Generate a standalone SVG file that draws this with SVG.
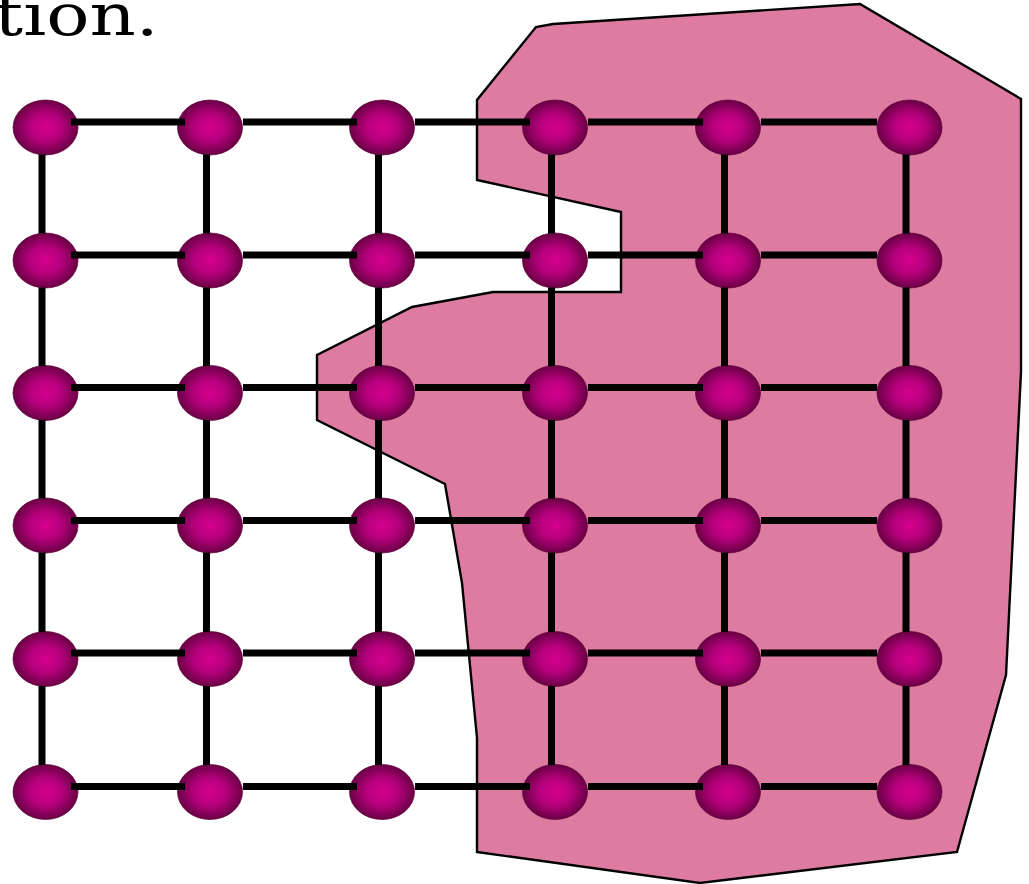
<svg xmlns="http://www.w3.org/2000/svg" width="1029" height="884" viewBox="0 0 1029 884">
<style>
.region{fill:#dd7ca0;stroke:#000;stroke-width:2.4;stroke-linejoin:miter}
.node{fill:url(#ng);stroke:#5e0039;stroke-width:0.7}
.edge{stroke:#000;stroke-width:7;stroke-linecap:butt;fill:none}
.lbl{font-family:"DejaVu Serif","Liberation Serif",serif;font-size:58px;fill:#000}
</style>
<defs>
<radialGradient id="ng" cx="50%" cy="50%" r="50%">
<stop offset="0" stop-color="#d6008f"/>
<stop offset="0.5" stop-color="#b4007b"/>
<stop offset="1" stop-color="#6a0044"/>
</radialGradient>
</defs>
<rect width="1029" height="884" fill="#fff"/>
<text class="lbl" transform="scale(1.24,1)" x="128" y="35" text-anchor="end">tion.</text>
<g id="region">
<polygon class="region" points="477,852 700,883 957,852 1006,675 1021,372 1021,99 860,4 553,24 536,27 477,100 477,180 621,212 621,292 493,292 412,307 317,355 317,420 445,484 462,583 477,738"/>
</g>
<g id="nodes">
<g id="n11"><ellipse class="node" cx="45.5" cy="127.5" rx="32.5" ry="27.5"/></g>
<g id="n12"><ellipse class="node" cx="210" cy="127.5" rx="32.5" ry="27.5"/></g>
<g id="n13"><ellipse class="node" cx="382" cy="127.5" rx="32.5" ry="27.5"/></g>
<g id="n14"><ellipse class="node" cx="555" cy="127.5" rx="32.5" ry="27.5"/></g>
<g id="n15"><ellipse class="node" cx="728" cy="127.5" rx="32.5" ry="27.5"/></g>
<g id="n16"><ellipse class="node" cx="909.5" cy="127.5" rx="32.5" ry="27.5"/></g>
<g id="n21"><ellipse class="node" cx="45.5" cy="260.5" rx="32.5" ry="27.5"/></g>
<g id="n22"><ellipse class="node" cx="210" cy="260.5" rx="32.5" ry="27.5"/></g>
<g id="n23"><ellipse class="node" cx="382" cy="260.5" rx="32.5" ry="27.5"/></g>
<g id="n24"><ellipse class="node" cx="555" cy="260.5" rx="32.5" ry="27.5"/></g>
<g id="n25"><ellipse class="node" cx="728" cy="260.5" rx="32.5" ry="27.5"/></g>
<g id="n26"><ellipse class="node" cx="909.5" cy="260.5" rx="32.5" ry="27.5"/></g>
<g id="n31"><ellipse class="node" cx="45.5" cy="393" rx="32.5" ry="27.5"/></g>
<g id="n32"><ellipse class="node" cx="210" cy="393" rx="32.5" ry="27.5"/></g>
<g id="n33"><ellipse class="node" cx="382" cy="393" rx="32.5" ry="27.5"/></g>
<g id="n34"><ellipse class="node" cx="555" cy="393" rx="32.5" ry="27.5"/></g>
<g id="n35"><ellipse class="node" cx="728" cy="393" rx="32.5" ry="27.5"/></g>
<g id="n36"><ellipse class="node" cx="909.5" cy="393" rx="32.5" ry="27.5"/></g>
<g id="n41"><ellipse class="node" cx="45.5" cy="525.5" rx="32.5" ry="27.5"/></g>
<g id="n42"><ellipse class="node" cx="210" cy="525.5" rx="32.5" ry="27.5"/></g>
<g id="n43"><ellipse class="node" cx="382" cy="525.5" rx="32.5" ry="27.5"/></g>
<g id="n44"><ellipse class="node" cx="555" cy="525.5" rx="32.5" ry="27.5"/></g>
<g id="n45"><ellipse class="node" cx="728" cy="525.5" rx="32.5" ry="27.5"/></g>
<g id="n46"><ellipse class="node" cx="909.5" cy="525.5" rx="32.5" ry="27.5"/></g>
<g id="n51"><ellipse class="node" cx="45.5" cy="659" rx="32.5" ry="27.5"/></g>
<g id="n52"><ellipse class="node" cx="210" cy="659" rx="32.5" ry="27.5"/></g>
<g id="n53"><ellipse class="node" cx="382" cy="659" rx="32.5" ry="27.5"/></g>
<g id="n54"><ellipse class="node" cx="555" cy="659" rx="32.5" ry="27.5"/></g>
<g id="n55"><ellipse class="node" cx="728" cy="659" rx="32.5" ry="27.5"/></g>
<g id="n56"><ellipse class="node" cx="909.5" cy="659" rx="32.5" ry="27.5"/></g>
<g id="n61"><ellipse class="node" cx="45.5" cy="792" rx="32.5" ry="27.5"/></g>
<g id="n62"><ellipse class="node" cx="210" cy="792" rx="32.5" ry="27.5"/></g>
<g id="n63"><ellipse class="node" cx="382" cy="792" rx="32.5" ry="27.5"/></g>
<g id="n64"><ellipse class="node" cx="555" cy="792" rx="32.5" ry="27.5"/></g>
<g id="n65"><ellipse class="node" cx="728" cy="792" rx="32.5" ry="27.5"/></g>
<g id="n66"><ellipse class="node" cx="909.5" cy="792" rx="32.5" ry="27.5"/></g>
</g>
<g id="connectors" class="edge">
<path d="M71,122H185M243,122H357M415,122H530M588,122H703M761,122H877"/>
<path d="M71,255H185M243,255H357M415,255H530M588,255H703M761,255H877"/>
<path d="M71,387.5H185M243,387.5H357M415,387.5H530M588,387.5H703M761,387.5H877"/>
<path d="M71,520.5H185M243,520.5H357M415,520.5H530M588,520.5H703M761,520.5H877"/>
<path d="M71,653H185M243,653H357M415,653H530M588,653H703M761,653H877"/>
<path d="M71,786.5H185M243,786.5H357M415,786.5H530M588,786.5H703M761,786.5H877"/>
<path d="M42,154.5V233.5M42,287.5V366M42,420V498.5M42,552.5V632M42,686V765"/>
<path d="M206.5,154.5V233.5M206.5,287.5V366M206.5,420V498.5M206.5,552.5V632M206.5,686V765"/>
<path d="M378.5,154.5V233.5M378.5,287.5V366M378.5,420V498.5M378.5,552.5V632M378.5,686V765"/>
<path d="M551.5,154.5V233.5M551.5,287.5V366M551.5,420V498.5M551.5,552.5V632M551.5,686V765"/>
<path d="M724.5,154.5V233.5M724.5,287.5V366M724.5,420V498.5M724.5,552.5V632M724.5,686V765"/>
<path d="M906,154.5V233.5M906,287.5V366M906,420V498.5M906,552.5V632M906,686V765"/>
</g>
</svg>
